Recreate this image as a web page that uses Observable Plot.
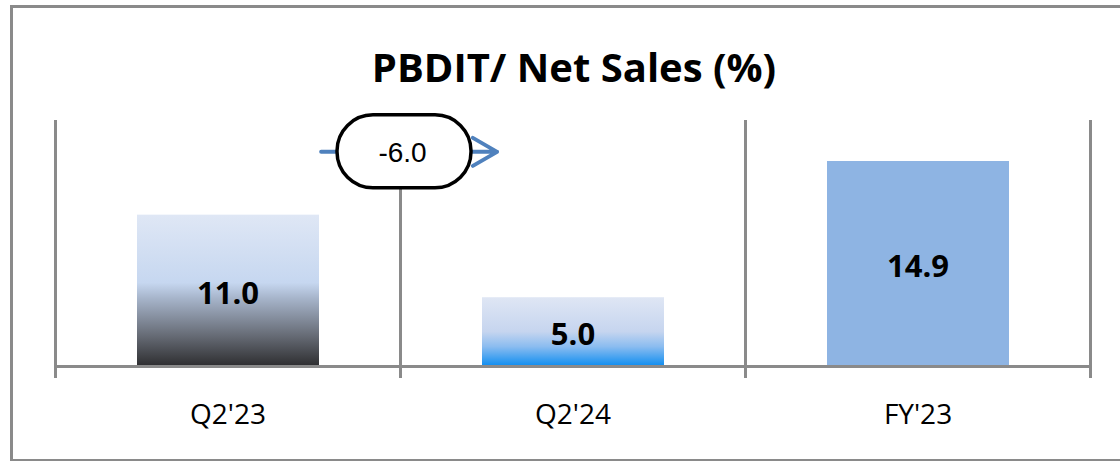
<!DOCTYPE html>
<html>
<head>
<meta charset="utf-8">
<script src="https://cdn.jsdelivr.net/npm/d3@7"></script>
<script src="https://cdn.jsdelivr.net/npm/@observablehq/plot@0.6"></script>
<style>
  html, body { margin: 0; padding: 0; background: #fff; width: 1120px; height: 461px; overflow: hidden; }
  #wrap { position: relative; width: 1120px; height: 461px; }
  #frame { position: absolute; left: 10px; top: 5px; width: 1200px; height: 451px;
           border: 3px solid #8a8a8a; border-right: none; pointer-events: none; z-index: 2; }
  #title { position: absolute; left: 0; width: 1148px; top: 47px; text-align: center;
           font-family: "Open Sans", sans-serif; font-weight: 700; font-size: 40px; line-height: 1; color: #000; z-index: 3; }
  #chart { position: absolute; left: 0; top: 0; z-index: 1; }
</style>
</head>
<body>
<div id="wrap">
  <div id="frame"></div>
  <div id="title">PBDIT/ Net Sales (%)</div>
  <div id="chart"></div>
</div>
<script>
// ---- data ----
const categories = ["Q2'23", "Q2'24", "FY'23"];
const values = [11.0, 5.0, 14.9];
const changeLabel = "-6.0";        // Q2'24 vs Q2'23
const changeLevel = 15.6;          // vertical level of the change callout (value units)
const arrowFrom = 0.77;            // callout arrow start (category-index units)
const arrowTo = 1.28;              // callout arrow end
const yTop = 17.88;                // top of the divider lines
const yTickBottom = -0.87;         // bottom of divider ticks

// ---- styles ----
const fills = ["url(#gradGray)", "url(#gradBlue)", "#8EB4E3"];
const gridColor = "#8a8a8a";

const bars = categories.map((c, i) => ({cat: c, i0: i, i1: i + 1, mid: i + 0.5, value: values[i], fill: fills[i]}));
const dividers = d3.range(categories.length + 1);
const callout = [{x: 1, y: changeLevel, label: changeLabel}];
const arrows = [{x1: arrowFrom, x2: arrowTo, y: changeLevel}];

function defs() {
  const d = d3.create("svg:defs");
  const g1 = d.append("linearGradient").attr("id", "gradGray").attr("x1", 0).attr("y1", 0).attr("x2", 0).attr("y2", 1);
  [[0, "#DFE7F5"], [0.45, "#C6D7F0"], [0.55, "#A7B5CB"], [0.8, "#666B75"], [1, "#2E2E30"]]
    .forEach(([o, c]) => g1.append("stop").attr("offset", o).attr("stop-color", c));
  const g2 = d.append("linearGradient").attr("id", "gradBlue").attr("x1", 0).attr("y1", 0).attr("x2", 0).attr("y2", 1);
  [[0, "#DFE6F4"], [0.5, "#C6D5EF"], [0.72, "#8ABCF0"], [1, "#0E8DF0"]]
    .forEach(([o, c]) => g2.append("stop").attr("offset", o).attr("stop-color", c));
  return d.node();
}

const plot = Plot.plot({
  width: 1120,
  height: 461,
  marginLeft: 55,
  marginRight: 30,
  marginTop: 120,
  marginBottom: 83,
  style: {background: "transparent", fontFamily: "Open Sans, sans-serif", color: "#000"},
  x: {domain: [0, categories.length], axis: null},
  y: {domain: [yTickBottom, yTop], axis: null},
  color: {type: "identity"},
  marks: [
    defs,
    Plot.ruleX(dividers, {x: d => d, y1: yTickBottom, y2: yTop, stroke: gridColor, strokeWidth: 3}),
    Plot.rectY(bars, {x1: "i0", x2: "i1", y1: 0, y2: "value", fill: "fill", insetLeft: 82, insetRight: 81}),
    Plot.ruleY([0], {x1: 0, x2: categories.length, stroke: gridColor, strokeWidth: 3}),
    Plot.text(bars, {x: "mid", y: d => d.value / 2, text: d => d.value.toFixed(1), fontSize: 31, fontWeight: 700, fill: "#000", dy: 3}),
    Plot.axisX({ticks: bars.map(b => b.mid), tickFormat: (t) => categories[Math.floor(t)], tickSize: 0, tickPadding: 26, fontSize: 28, fill: "#000", anchor: "bottom"}),
    Plot.arrow(arrows, {x1: "x1", x2: "x2", y1: "y", y2: "y", stroke: "#4F81BD", strokeWidth: 4, headLength: 10.5, headAngle: 60}),
    Plot.rect(callout, {x1: "x", x2: "x", y1: "y", y2: "y", insetLeft: -67, insetRight: -67, insetTop: -36.5, insetBottom: -36.5, dx: 4, rx: 36, fill: "#fff", stroke: "#000", strokeWidth: 3.5}),
    Plot.text(callout, {x: "x", y: "y", text: "label", dx: 2, dy: 1, fontSize: 28, fontFamily: "Liberation Sans, Arial, sans-serif", fill: "#000"})
  ]
});
document.getElementById("chart").appendChild(plot);
</script>
</body>
</html>
